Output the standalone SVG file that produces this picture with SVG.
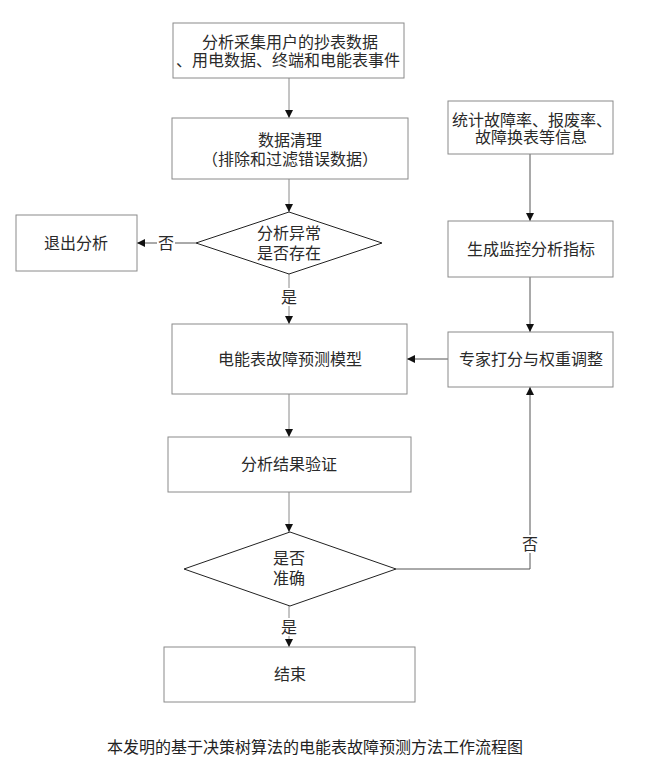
<svg xmlns="http://www.w3.org/2000/svg" width="654" height="783" viewBox="0 0 654 783">
<style>
.box{fill:#fff;stroke:#8a8a8a;stroke-width:1}
.dia{fill:#fff;stroke:#222;stroke-width:1}
.t{font-family:"Liberation Serif","Noto Sans CJK SC",serif;font-size:16px;fill:#2a2a2a;text-anchor:middle}
.lbl{font-family:"Liberation Serif","Noto Sans CJK SC",serif;font-size:16px;fill:#2a2a2a;text-anchor:middle}
.c{fill:none;stroke:#8a8a8a;stroke-width:1;marker-end:url(#ah)}
.cd{fill:none;stroke:#555;stroke-width:1;marker-end:url(#ah)}
.cap{font-family:"Noto Sans CJK SC",sans-serif;font-size:16px;fill:#222}
</style>
<defs>
<marker id="ah" markerUnits="userSpaceOnUse" markerWidth="8" markerHeight="8" refX="8" refY="4" orient="auto">
<path d="M0,0 L8,4 L0,8 z" fill="#111"/>
</marker>
</defs>
<rect width="654" height="783" fill="#fff"/>
<g id="connectors">
<path class="c" d="M289,78 V118"/>
<path class="c" d="M289,179 V212"/>
<path class="cd" d="M196,243 H137"/>
<path class="c" d="M289,274 V324"/>
<path class="cd" d="M530,154 V221"/>
<path class="cd" d="M530,277 V332"/>
<path class="cd" d="M448,359 H407"/>
<path class="c" d="M289,394 V437"/>
<path class="c" d="M289,492 V532"/>
<path class="cd" d="M396,569 H530 V387"/>
<path class="c" d="M289,606 V647"/>
<g id="labels">
<rect x="157" y="234" width="18" height="18" fill="#fff"/>
<text class="lbl" x="166" y="249">否</text>
<rect x="280" y="288" width="18" height="18" fill="#fff"/>
<text class="lbl" x="289" y="303">是</text>
<rect x="521" y="535" width="18" height="18" fill="#fff"/>
<text class="lbl" x="530" y="550">否</text>
<rect x="280" y="618" width="18" height="18" fill="#fff"/>
<text class="lbl" x="289" y="633">是</text>
</g>
</g>
<g id="n1"><rect class="box" x="173" y="23" width="231" height="55"/>
<text class="t" x="290" y="48">分析采集用户的抄表数据</text>
<text class="t" x="288" y="66">、用电数据、终端和电能表事件</text></g>
<g id="n2"><rect class="box" x="172" y="118" width="236" height="61"/>
<text class="t" x="290" y="146">数据清理</text>
<text class="t" x="290" y="165">（排除和过滤错误数据）</text></g>
<g id="n3"><polygon class="dia" points="289,212 382,243 289,274 196,243"/>
<text class="t" x="289" y="239">分析异常</text>
<text class="t" x="289" y="259">是否存在</text></g>
<g id="n4"><rect class="box" x="16" y="215" width="121" height="56"/>
<text class="t" x="76" y="249">退出分析</text></g>
<g id="n5"><rect class="box" x="448" y="101" width="165" height="53"/>
<text class="t" x="532" y="126">统计故障率、报废率、</text>
<text class="t" x="531" y="143">故障换表等信息</text></g>
<g id="n6"><rect class="box" x="448" y="221" width="165" height="56"/>
<text class="t" x="531" y="255">生成监控分析指标</text></g>
<g id="n7"><rect class="box" x="448" y="332" width="165" height="55"/>
<text class="t" x="531" y="365">专家打分与权重调整</text></g>
<g id="n8"><rect class="box" x="172" y="324" width="235" height="70"/>
<text class="t" x="290" y="365">电能表故障预测模型</text></g>
<g id="n9"><rect class="box" x="168" y="437" width="243" height="55"/>
<text class="t" x="289" y="470">分析结果验证</text></g>
<g id="n10"><polygon class="dia" points="290,532 396,569 290,606 184,569"/>
<text class="t" x="289" y="564">是否</text>
<text class="t" x="289" y="584">准确</text></g>
<g id="n11"><rect class="box" x="164" y="647" width="251" height="55"/>
<text class="t" x="290" y="680">结束</text></g>
<text class="cap" x="107" y="753">本发明的基于决策树算法的电能表故障预测方法工作流程图</text>
</svg>
